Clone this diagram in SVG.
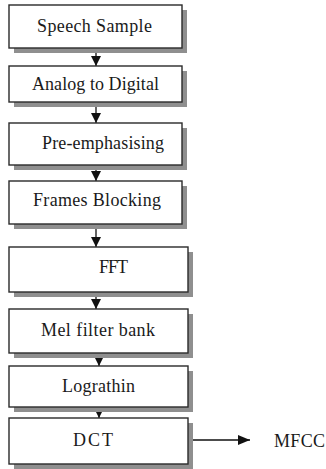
<svg xmlns="http://www.w3.org/2000/svg" width="326" height="469" viewBox="0 0 326 469">
  <defs>
    <marker id="arrow" viewBox="0 0 10 10" refX="10" refY="5" markerWidth="10" markerHeight="10" markerUnits="userSpaceOnUse" orient="auto">
      <path d="M0,0 L10,5 L0,10 z" fill="#111"/>
    </marker>
    <marker id="arrowOut" viewBox="0 0 12 10" refX="12" refY="5" markerWidth="12" markerHeight="10" markerUnits="userSpaceOnUse" orient="auto">
      <path d="M0,0 L12,5 L0,10 z" fill="#111"/>
    </marker>
  </defs>
  <style>
    .shadow { fill: #8f8f8f; }
    .box { fill: #ffffff; stroke: #2a2a2a; stroke-width: 1.4; }
    .label { font-family: 'Liberation Serif', 'Times New Roman', serif; font-size: 18px; fill: #1a1a1a; }
    .conn { stroke: #111; stroke-width: 1.3; fill: none; }
  </style>
  <rect width="326" height="469" fill="#ffffff"/>

  <g id="connectors">
    <line class="conn" x1="96" y1="48" x2="96" y2="66" marker-end="url(#arrow)"/>
    <line class="conn" x1="96" y1="102" x2="96" y2="123" marker-end="url(#arrow)"/>
    <line class="conn" x1="96" y1="165" x2="96" y2="181" marker-end="url(#arrow)"/>
    <line class="conn" x1="96" y1="224" x2="96" y2="247" marker-end="url(#arrow)"/>
    <line class="conn" x1="96" y1="292" x2="96" y2="309" marker-end="url(#arrow)"/>
    <line class="conn" x1="99" y1="353" x2="99" y2="366" marker-end="url(#arrow)"/>
    <line class="conn" x1="99" y1="407" x2="99" y2="418" marker-end="url(#arrow)"/>
    <line class="conn" x1="188" y1="440" x2="250" y2="440" stroke="#333" marker-end="url(#arrowOut)"/>
  </g>

  <g id="speech-sample">
    <rect class="shadow" x="14" y="10" width="173" height="43"/>
    <rect class="box" x="9" y="5" width="173" height="43"/>
    <text class="label" x="37" y="32" textLength="115" lengthAdjust="spacing">Speech Sample</text>
  </g>
  <g id="analog-to-digital">
    <rect class="shadow" x="14" y="71" width="173" height="36"/>
    <rect class="box" x="9" y="66" width="173" height="36"/>
    <text class="label" x="32" y="90" textLength="127" lengthAdjust="spacing">Analog to Digital</text>
  </g>
  <g id="pre-emphasising">
    <rect class="shadow" x="14" y="128" width="173" height="42"/>
    <rect class="box" x="9" y="123" width="173" height="42"/>
    <text class="label" x="42" y="149" textLength="122" lengthAdjust="spacing">Pre-emphasising</text>
  </g>
  <g id="frames-blocking">
    <rect class="shadow" x="14" y="186" width="173" height="43"/>
    <rect class="box" x="9" y="181" width="173" height="43"/>
    <text class="label" x="33" y="206" textLength="128" lengthAdjust="spacing">Frames Blocking</text>
  </g>
  <g id="fft">
    <rect class="shadow" x="14" y="252" width="179" height="45"/>
    <rect class="box" x="9" y="247" width="179" height="45"/>
    <text class="label" x="99" y="273" textLength="29" lengthAdjust="spacing">FFT</text>
  </g>
  <g id="mel-filter-bank">
    <rect class="shadow" x="14" y="314" width="179" height="44"/>
    <rect class="box" x="9" y="309" width="179" height="44"/>
    <text class="label" x="41" y="336" textLength="114" lengthAdjust="spacing">Mel filter bank</text>
  </g>
  <g id="lograthin">
    <rect class="shadow" x="14" y="371" width="179" height="41"/>
    <rect class="box" x="9" y="366" width="179" height="41"/>
    <text class="label" x="62" y="392" textLength="73" lengthAdjust="spacing">Lograthin</text>
  </g>
  <g id="dct">
    <rect class="shadow" x="14" y="423" width="179" height="46"/>
    <rect class="box" x="9" y="418" width="179" height="46"/>
    <text class="label" x="73" y="446" textLength="40" lengthAdjust="spacing">DCT</text>
  </g>
  <g id="mfcc">
    <text class="label" x="274" y="447" textLength="51" lengthAdjust="spacing">MFCC</text>
  </g>
</svg>
